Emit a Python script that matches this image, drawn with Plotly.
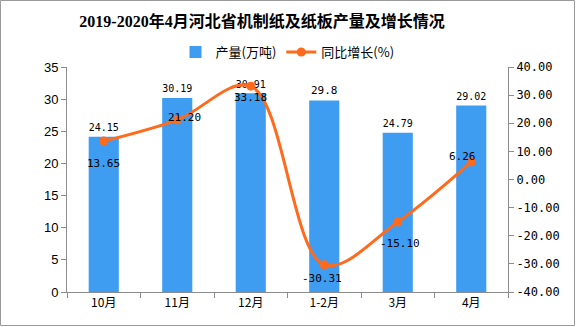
import plotly.graph_objects as go

categories = ["10月", "11月", "12月", "1-2月", "3月", "4月"]
output_vals = [24.15, 30.19, 30.91, 29.8, 24.79, 29.02]
output_labels = ["24.15", "30.19", "30.91", "29.8", "24.79", "29.02"]
growth_vals = [13.65, 21.20, 33.18, -30.31, -15.10, 6.26]
growth_labels = ["13.65", "21.20", "33.18", "-30.31", "-15.10", "6.26"]
left_ticks = [0, 5, 10, 15, 20, 25, 30, 35]
right_ticks = [-40, -30, -20, -10, 0, 10, 20, 30, 40]

# label offsets (pixels) for the growth labels
label_xshift = [0, 7, 0, -2, 2, -9]
label_yshift = [-22, 2, -11, -14, -22, 5]

W, H = 576, 327
ml, mr, mt, mb = 67, 68, 67, 35

BLUE = "#3F9DF1"
ORANGE = "#FF6A1C"
GRAY = "#8C8C8C"
num_font = dict(family="DejaVu Sans Mono, Liberation Mono, monospace", size=11, color="#000")

fig = go.Figure()
fig.add_trace(go.Bar(
    x=categories, y=output_vals, name="产量(万吨)",
    marker=dict(color=BLUE, line=dict(width=0)),
    width=0.41,
    text=output_labels, textposition="outside", textfont=num_font,
    cliponaxis=False,
))
fig.add_trace(go.Scatter(
    x=categories, y=growth_vals, name="同比增长(%)", yaxis="y2",
    mode="lines+markers",
    line=dict(color=ORANGE, width=3, shape="spline", smoothing=1.0),
    marker=dict(color=ORANGE, size=9),
    cliponaxis=False,
))

for c, v, t, dx, dy in zip(categories, growth_vals, growth_labels, label_xshift, label_yshift):
    fig.add_annotation(x=c, y=v, yref="y2", text=t, showarrow=False,
                       xshift=dx, yshift=dy, font=num_font)

pw = W - ml - mr
ph = H - mt - mb
fig.add_shape(type="rect", xref="paper", yref="paper",
              x0=(0.5 - ml) / pw, x1=(W - 1.5 - ml) / pw,
              y0=-(mb - 1.5) / ph, y1=1 + (mt - 0.5) / ph,
              line=dict(color="#9A9A9A", width=1), layer="below")

fig.update_layout(
    width=W, height=H,
    margin=dict(l=ml, r=mr, t=mt, b=mb),
    paper_bgcolor="white", plot_bgcolor="white",
    title=dict(text="<b>2019-2020年4月河北省机制纸及纸板产量及增长情况</b>",
               x=262 / W, xanchor="center", xref="container",
               y=1 - 21 / H, yanchor="middle", yref="container",
               font=dict(family="Liberation Serif, Noto Sans CJK SC", size=16, color="#000")),
    legend=dict(orientation="h", x=0.5, xanchor="center", y=1 + 15 / ph, yanchor="middle",
                font=dict(family="Noto Sans CJK SC", size=13, color="#000"),
                itemwidth=30, traceorder="normal", bgcolor="rgba(0,0,0,0)"),
    bargap=0.59,
    showlegend=True,
    xaxis=dict(showline=True, linecolor=GRAY, linewidth=1, ticks="outside", tickcolor=GRAY,
               ticklen=5, tickson="boundaries", showgrid=False,
               tickfont=dict(family="Noto Sans CJK SC", size=12, color="#000")),
    yaxis=dict(range=[0, 35], tickvals=left_ticks, showline=True, linecolor=GRAY, linewidth=1,
               ticks="outside", tickcolor=GRAY, ticklen=5, showgrid=False, zeroline=False,
               tickfont=dict(family="Liberation Sans, Arial", size=13, color="#000")),
    yaxis2=dict(range=[-40, 40], tickvals=right_ticks,
                ticktext=[f"{v:.2f}" for v in right_ticks],
                overlaying="y", side="right", showline=True, linecolor=GRAY, linewidth=1,
                ticks="outside", tickcolor=GRAY, ticklen=5, showgrid=False, zeroline=False,
                tickfont=dict(family="DejaVu Sans Mono, Liberation Mono", size=12, color="#000")),
)

fig.write_html("out.html")
